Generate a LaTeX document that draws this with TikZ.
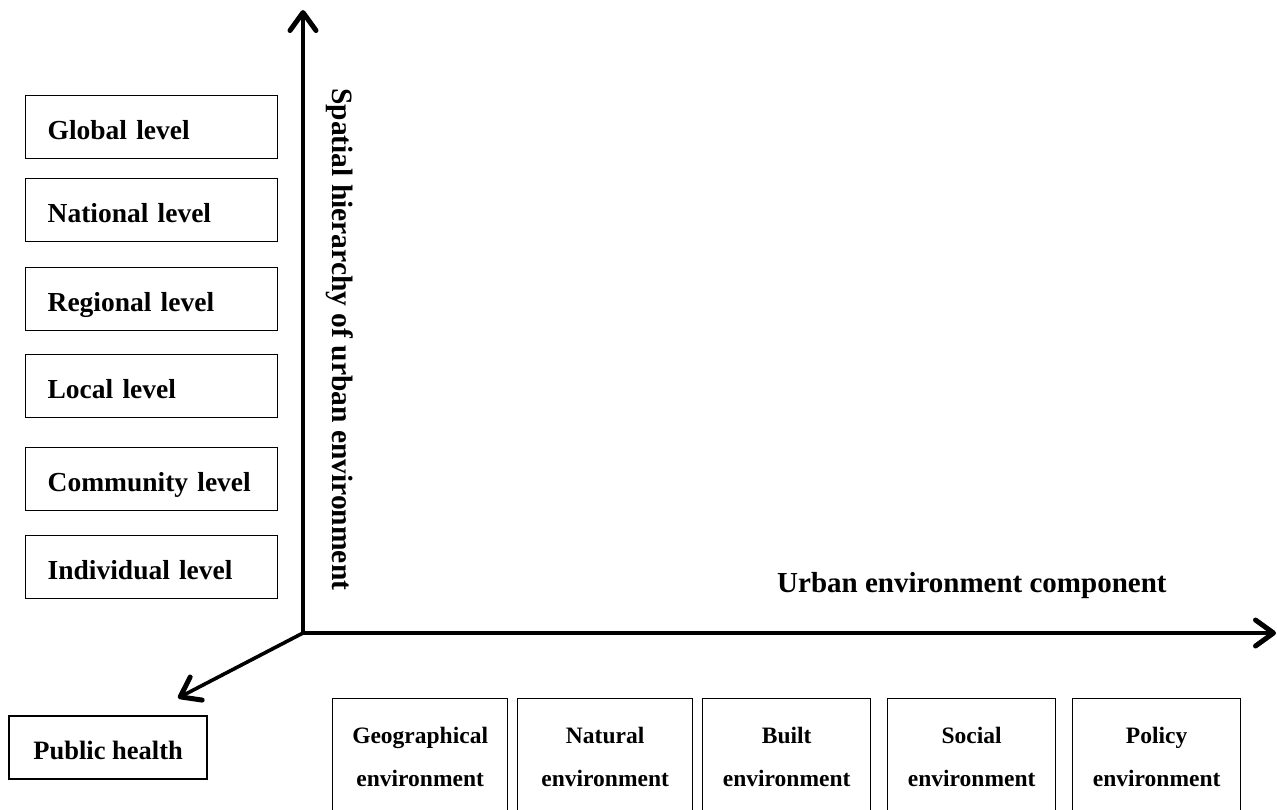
\documentclass[tikz,border=0pt]{standalone}
\usepackage{fontspec}
\setmainfont{Liberation Serif}
\usetikzlibrary{arrows.meta}
\begin{document}
\begin{tikzpicture}[x=1pt,y=-1pt,
  axis/.style={line width=3.6pt, -{Straight Barb[length=18pt,width=26pt,line width=5pt,round]}},
  lvlbox/.style={draw, line width=1.3pt, anchor=north west, text width=208pt, align=left,
    inner xsep=22pt, inner ysep=0pt, minimum height=63pt, text height=25pt, text depth=0pt,
    font=\fontsize{27.5}{33}\selectfont\bfseries},
  phbox/.style={draw, line width=2.3pt, anchor=north west, inner sep=0pt,
    minimum width=198pt, minimum height=63pt, text height=24pt, text depth=0pt,
    font=\fontsize{26.5}{32}\selectfont\bfseries},
  envbox/.style={draw, line width=1.3pt, anchor=north west, inner sep=0pt, minimum height=130pt},
  envtext/.style={anchor=base, inner sep=0pt, font=\fontsize{23.5}{43}\selectfont\bfseries},
  axlabel/.style={inner sep=0pt, font=\fontsize{29.5}{35}\selectfont\bfseries}
]
\useasboundingbox (0,0) rectangle (1277,809);
\fill[white] (0,0) rectangle (1277,809);

% level boxes
\node[lvlbox] (global) at (25,95) {Global level};
\node[lvlbox] (national) at (25,178) {National level};
\node[lvlbox] (regional) at (25,267) {Regional level};
\node[lvlbox] (local) at (25,354) {Local level};
\node[lvlbox] (community) at (25,447) {Community level};
\node[lvlbox] (individual) at (25,535) {Individual level};

% public health
\node[phbox] (ph) at (8,715) {Public health};

% axes
\coordinate (O) at (303,633);
\coordinate (ytip) at (303,10);
\coordinate (xtip) at (1276,633);
\coordinate (ztip) at (178,698);
\draw[axis] (O) -- (ytip);
\draw[axis] (O) -- (xtip);
\draw[axis] (O) -- (ztip);
\draw[line width=3.6pt, line join=miter] (303,600) -- (O) -- (340,633);

% axis labels
\node[axlabel, anchor=base west, rotate=-90] (ylab) at (332,88) {Spatial hierarchy of urban environment};
\node[axlabel, anchor=base west, font=\fontsize{29}{35}\selectfont\bfseries] (xlab) at (777,592) {Urban environment component};

% environment boxes
\node[envbox, minimum width=175pt] (geo) at (332,698) {};
\node[envbox, minimum width=175pt] (nat) at (517,698) {};
\node[envbox, minimum width=168pt] (built) at (702,698) {};
\node[envbox, minimum width=168pt] (soc) at (887,698) {};
\node[envbox, minimum width=168pt] (pol) at (1072,698) {};

\node[envtext] (geot) at ([yshift=-45pt]geo.north) {\begin{tabular}[t]{@{}c@{}}Geographical\\ environment\end{tabular}};
\node[envtext] (natt) at ([yshift=-45pt]nat.north) {\begin{tabular}[t]{@{}c@{}}Natural\\ environment\end{tabular}};
\node[envtext] (builtt) at ([yshift=-45pt]built.north) {\begin{tabular}[t]{@{}c@{}}Built\\ environment\end{tabular}};
\node[envtext] (soct) at ([yshift=-45pt]soc.north) {\begin{tabular}[t]{@{}c@{}}Social\\ environment\end{tabular}};
\node[envtext] (polt) at ([yshift=-45pt]pol.north) {\begin{tabular}[t]{@{}c@{}}Policy\\ environment\end{tabular}};
\end{tikzpicture}
\end{document}
